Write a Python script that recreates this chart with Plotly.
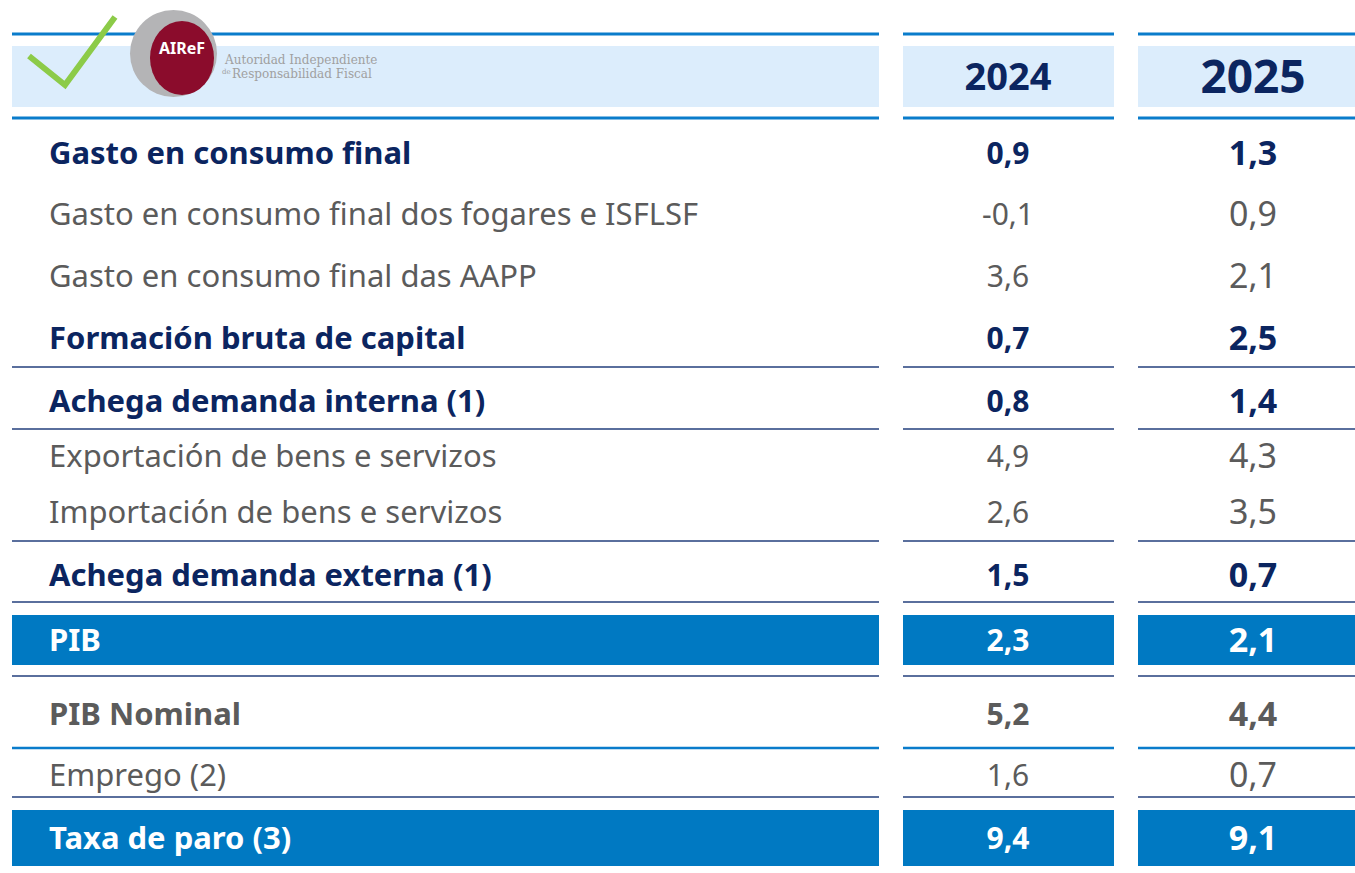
import plotly.graph_objects as go

# ---- data -------------------------------------------------------------
labels = [
    "Gasto en consumo final",
    "Gasto en consumo final dos fogares e ISFLSF",
    "Gasto en consumo final das AAPP",
    "Formación bruta de capital",
    "Achega demanda interna (1)",
    "Exportación de bens e servizos",
    "Importación de bens e servizos",
    "Achega demanda externa (1)",
    "PIB",
    "PIB Nominal",
    "Emprego (2)",
    "Taxa de paro (3)",
]
values_2024 = ["0,9", "-0,1", "3,6", "0,7", "0,8", "4,9", "2,6", "1,5", "2,3", "5,2", "1,6", "9,4"]
values_2025 = ["1,3", "0,9", "2,1", "2,5", "1,4", "4,3", "3,5", "0,7", "2,1", "4,4", "0,7", "9,1"]
years = ["2024", "2025"]
# row style: "main" = bold navy, "sub" = grey, "hl" = highlighted bar, "nom" = bold grey
row_style = ["main", "sub", "sub", "main", "main", "sub", "sub", "main", "hl", "nom", "sub", "hl"]

# ---- layout (pixel space) ---------------------------------------------
W, H = 1355, 873
NAVY = "#0b2560"
GREY = "#5b5b5b"
BLUE = "#0079c2"
LINE_BLUE = "#0a7ccb"
LIGHT = "#dcedfc"
FONT = "Noto Sans"

row_y = [153, 214, 276, 338, 401, 456, 512, 575, 640, 714, 775, 838]
TEXT_DY = 3  # plotly centres text a bit high
text_y = [y + TEXT_DY for y in row_y]
rule_after = {3: 367, 4: 429, 6: 541, 7: 602, 8: 676, 10: 797}
cols = [(12, 879), (903, 1114), (1138, 1355)]
col_centre = [1008, 1253]

fig = go.Figure()
shapes = []

for x0, x1 in cols:
    shapes.append(dict(type="line", x0=x0, x1=x1, y0=34, y1=34, line=dict(color=LINE_BLUE, width=3)))
    shapes.append(dict(type="rect", x0=x0, x1=x1, y0=46, y1=107, fillcolor=LIGHT, line=dict(width=0), layer="below"))
    shapes.append(dict(type="line", x0=x0, x1=x1, y0=118, y1=118, line=dict(color=LINE_BLUE, width=3)))
    for i, y in rule_after.items():
        shapes.append(dict(type="line", x0=x0, x1=x1, y0=y, y1=y, line=dict(color="#233f7c", width=1.6)))
    shapes.append(dict(type="line", x0=x0, x1=x1, y0=748, y1=748, line=dict(color=LINE_BLUE, width=2.5)))
    shapes.append(dict(type="rect", x0=x0, x1=x1, y0=615, y1=665, fillcolor=BLUE, line=dict(width=0), layer="below"))
    shapes.append(dict(type="rect", x0=x0, x1=x1, y0=810, y1=866, fillcolor=BLUE, line=dict(width=0), layer="below"))

# logo: check mark + AIReF seal
shapes.append(dict(type="path", path="M 29 56 L 65 85 L 115 17",
                   line=dict(color="#8ccb48", width=6)))
shapes.append(dict(type="circle", x0=130, x1=217, y0=10, y1=97, fillcolor="#b4b4b6", line=dict(width=0)))
shapes.append(dict(type="circle", x0=150, x1=214, y0=21, y1=95, fillcolor="#8b0c2c", line=dict(width=0)))


def style(s):
    if s == "main":
        return NAVY, True
    if s == "hl":
        return "white", True
    if s == "nom":
        return GREY, True
    return GREY, False


def fmt(t, bold):
    return f"<b>{t}</b>" if bold else t


lab_txt, lab_col = [], []
for lab, s in zip(labels, row_style):
    c, b = style(s)
    lab_txt.append(fmt(lab, b))
    lab_col.append(c)

fig.add_trace(go.Scatter(
    x=[49] * len(labels), y=text_y, mode="text", text=lab_txt,
    textposition="middle right",
    textfont=dict(family=FONT, size=31, color=lab_col),
    hoverinfo="skip", showlegend=False,
))

for k, vals in enumerate([values_2024, values_2025]):
    txt, colr = [], []
    for v, s in zip(vals, row_style):
        c, b = style(s)
        txt.append(fmt(v, b))
        colr.append(c)
    fig.add_trace(go.Scatter(
        x=[col_centre[k]] * len(vals), y=text_y, mode="text", text=txt,
        textposition="middle center",
        textfont=dict(family=FONT, size=30 if k == 0 else 34, color=colr),
        hoverinfo="skip", showlegend=False,
    ))

# year headers
fig.add_trace(go.Scatter(
    x=col_centre, y=[80, 81], mode="text", text=[f"<b>{y}</b>" for y in years],
    textposition="middle center",
    textfont=dict(family=FONT, size=[38, 46], color=NAVY),
    hoverinfo="skip", showlegend=False,
))

annotations = [
    dict(x=182, y=48, text="<b>AIReF</b>", showarrow=False,
         font=dict(family=FONT, size=16, color="white")),
    dict(x=222, y=60, text="Autoridad Independiente", showarrow=False, xanchor="left",
         font=dict(family="DejaVu Serif", size=12, color="#a0a0a0")),
    dict(x=220, y=72, text="de", showarrow=False, xanchor="left",
         font=dict(family="DejaVu Serif", size=7, color="#a0a0a0")),
    dict(x=230, y=74, text="Responsabilidad Fiscal", showarrow=False, xanchor="left",
         font=dict(family="DejaVu Serif", size=12, color="#a0a0a0")),
]
for a in annotations:
    a.update(xref="x", yref="y")

fig.update_layout(
    width=W, height=H,
    margin=dict(l=0, r=0, t=0, b=0),
    paper_bgcolor="white", plot_bgcolor="white",
    xaxis=dict(range=[0, W], visible=False, fixedrange=True),
    yaxis=dict(range=[H, 0], visible=False, fixedrange=True),
    shapes=shapes, annotations=annotations,
)

fig.write_html("out.html", post_script="document.body.style.margin='0';",
               config={"displayModeBar": False})
